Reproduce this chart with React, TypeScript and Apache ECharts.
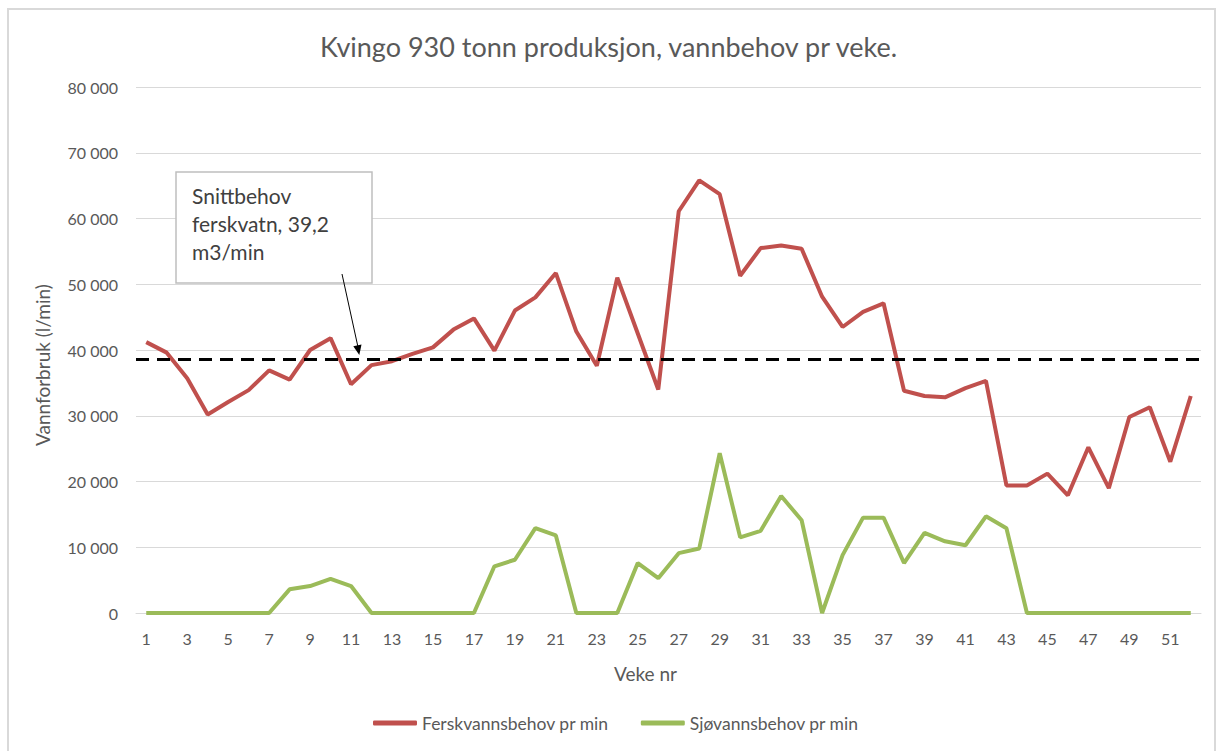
import React, { useEffect, useRef } from "react";
import * as echarts from "echarts";

const weeks: string[] = [
  "1","2","3","4","5","6","7","8","9","10","11","12","13","14","15","16","17","18","19","20",
  "21","22","23","24","25","26","27","28","29","30","31","32","33","34","35","36","37","38","39","40",
  "41","42","43","44","45","46","47","48","49","50","51","52",
];

const ferskvann: number[] = [
  41200, 39600, 35700, 30200, 32100, 33900, 36900, 35500, 40000, 41800,
  34800, 37700, 38300, 39400, 40400, 43100, 44800, 39900, 46000, 48000,
  51700, 42800, 37600, 51000, 42500, 34000, 61100, 65800, 63700, 51300,
  55500, 55900, 55400, 48100, 43500, 45800, 47100, 33800, 33000, 32800,
  34200, 35300, 19400, 19400, 21200, 17900, 25200, 19000, 29800, 31300,
  23000, 33000,
];

const sjovann: number[] = [
  0, 0, 0, 0, 0, 0, 0, 3600, 4100, 5200,
  4100, 0, 0, 0, 0, 0, 0, 7100, 8100, 12900,
  11800, 0, 0, 0, 7600, 5300, 9100, 9800, 24300, 11500,
  12500, 17800, 14100, 0, 8800, 14500, 14500, 7600, 12200, 10900,
  10300, 14700, 12900, 0, 0, 0, 0, 0, 0, 0,
  0, 0,
];

const snittbehov = 38600;

const titleText = "Kvingo 930 tonn produksjon, vannbehov pr veke.";
const seriesNames = ["Ferskvannsbehov pr min", "Sjøvannsbehov pr min"];
const noteLines = ["Snittbehov", "ferskvatn, 39,2", "m3/min"];

const FONT = "Lato, 'Open Sans', sans-serif";
const GRAY = "#595959";

export default function App() {
  const ref = useRef<HTMLDivElement>(null);
  useEffect(() => {
    if (!ref.current) return;
    const chart = echarts.init(ref.current, undefined, { renderer: "svg" });
    chart.setOption({
      animation: false,
      backgroundColor: "#ffffff",
      textStyle: { fontFamily: FONT },
      title: {
        text: titleText,
        left: "center",
        top: 28,
        textStyle: { fontFamily: FONT, fontSize: 27, fontWeight: "normal", color: GRAY },
      },
      grid: { left: 136, right: 16, top: 87, bottom: 138, containLabel: false },
      legend: {
        left: 368,
        top: 709,
        itemWidth: 44,
        itemHeight: 5,
        itemGap: 32,
        icon: "roundRect",
        textStyle: { fontFamily: FONT, fontSize: 17.5, color: GRAY },
        data: seriesNames,
      },
      xAxis: {
        type: "category",
        data: weeks,
        boundaryGap: true,
        name: "Veke nr",
        nameLocation: "middle",
        nameGap: 51,
        nameTextStyle: { fontFamily: FONT, fontSize: 19, color: GRAY, padding: [0, 46, 0, 0] },
        axisLine: { show: true, lineStyle: { color: "#d9d9d9", width: 1 } },
        axisTick: { show: false },
        axisLabel: { interval: 1, fontFamily: FONT, fontSize: 16, color: GRAY, margin: 17 },
      },
      yAxis: {
        type: "value",
        min: 0,
        max: 80000,
        interval: 10000,
        name: "Vannforbruk (l/min)",
        nameLocation: "middle",
        nameGap: 84,
        nameRotate: 90,
        nameTextStyle: { fontFamily: FONT, fontSize: 19, color: GRAY, padding: [0, 30, 0, 0] },
        axisLine: { show: false },
        axisTick: { show: false },
        splitLine: { lineStyle: { color: "#d9d9d9", width: 1 } },
        axisLabel: {
          fontFamily: FONT,
          fontSize: 16,
          color: GRAY,
          margin: 18,
          formatter: (v: number) => String(v).replace(/\B(?=(\d{3})+(?!\d))/g, " "),
        },
      },
      series: [
        {
          name: seriesNames[0],
          type: "line",
          data: ferskvann,
          symbol: "none",
          lineStyle: { color: "#c0504d", width: 4 },
          itemStyle: { color: "#c0504d" },
          z: 3,
          markLine: {
            silent: true,
            symbol: "none",
            label: { show: false },
            lineStyle: { color: "#000000", width: 3, type: [13, 8] },
            data: [{ yAxis: snittbehov }],
          },
        },
        {
          name: seriesNames[1],
          type: "line",
          data: sjovann,
          symbol: "none",
          lineStyle: { color: "#9bbb59", width: 4 },
          itemStyle: { color: "#9bbb59" },
          z: 3,
        },
      ],
      graphic: [
        {
          type: "rect",
          shape: { x: 8, y: 9, width: 1207, height: 800 },
          style: { fill: "none", stroke: "#d9d9d9", lineWidth: 2 },
          silent: true,
          z: 0,
        },
        {
          type: "rect",
          shape: { x: 176, y: 172, width: 196, height: 111 },
          style: { fill: "#ffffff", stroke: "#bfbfbf", lineWidth: 1.5 },
          z: 10,
        },
        ...noteLines.map((t, i) => ({
          type: "text",
          x: 192,
          y: 195 + i * 28,
          style: {
            text: t,
            fontFamily: FONT,
            fontSize: 21,
            fill: "#404040",
            verticalAlign: "middle",
          },
          z: 11,
        })),
        {
          type: "line",
          shape: { x1: 342, y1: 274, x2: 358.2, y2: 348 },
          style: { stroke: "#000000", lineWidth: 1 },
          z: 12,
        },
        {
          type: "polygon",
          shape: { points: [[359.3, 355], [361.5, 344.4], [353.3, 346.2]] },
          style: { fill: "#000000" },
          z: 12,
        },
      ],
    });
    return () => chart.dispose();
  }, []);
  return (
    <div
      ref={ref}
      style={{ position: "fixed", left: 0, top: 0, width: 1217, height: 751 }}
    />
  );
}
